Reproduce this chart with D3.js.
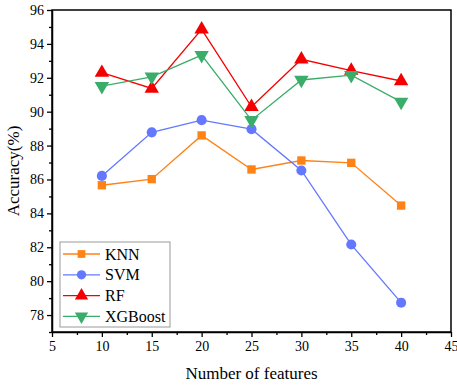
<!DOCTYPE html>
<html>
<head>
<meta charset="utf-8">
<script src="https://cdn.jsdelivr.net/npm/d3@7"></script>
<style>
  body { margin: 0; background: #fff; }
</style>
</head>
<body>
<svg id="chart" width="457" height="388"></svg>
<script>
const features = [10, 15, 20, 25, 30, 35, 40];
const knn = [85.66, 86.02, 88.6, 86.59, 87.12, 86.98, 84.46];
const svm = [86.21, 88.78, 89.5, 88.97, 86.53, 82.16, 78.73];
const rf = [92.3, 91.37, 94.86, 90.29, 93.09, 92.42, 91.81];
const xgb = [91.51, 92.06, 93.34, 89.5, 91.87, 92.16, 90.58];
const seriesNames = ['KNN', 'SVM', 'RF', 'XGBoost'];
const xTicks = [5, 10, 15, 20, 25, 30, 35, 40, 45];
const yTicks = [78, 80, 82, 84, 86, 88, 90, 92, 94, 96];

const FONT = '"Liberation Serif", "Times New Roman", serif';

const series = [
  { name: 'KNN', values: knn, color: '#ff8215', symbol: d3.symbolSquare, size: 70, rot: 0 },
  { name: 'SVM', values: svm, color: '#6478ff', symbol: d3.symbolCircle, size: 80, rot: 0 },
  { name: 'RF', values: rf, color: '#f50000', symbol: d3.symbolTriangle, size: 90, rot: 0 },
  { name: 'XGBoost', values: xgb, color: '#3aad6a', symbol: d3.symbolTriangle, size: 90, rot: 180 }
];

const margin = { top: 10, right: 6, bottom: 56, left: 52 };
const W = 457, H = 388;
const svg = d3.select('#chart');

const x = d3.scaleLinear().domain([5, 45]).range([margin.left, W - margin.right]);
const y = d3.scaleLinear().domain([77, 96]).range([H - margin.bottom, margin.top]);

// frame
svg.append('rect')
  .attr('x', x(5)).attr('y', y(96))
  .attr('width', x(45) - x(5)).attr('height', y(77) - y(96))
  .attr('fill', 'none').attr('stroke', '#000').attr('stroke-width', 1.5);

// x axis
svg.append('g').attr('transform', `translate(0,${y(77)})`)
  .call(d3.axisBottom(x).tickValues(xTicks).tickSize(5).tickSizeOuter(0).tickPadding(4));
svg.append('g').attr('transform', `translate(0,${y(77)})`)
  .call(d3.axisBottom(x).tickValues(d3.range(7.5, 45, 5)).tickSize(3).tickFormat(''))
  .select('.domain').remove();

// y axis
svg.append('g').attr('transform', `translate(${x(5)},0)`)
  .call(d3.axisLeft(y).tickValues(yTicks).tickSize(5).tickSizeOuter(0).tickPadding(3));
svg.append('g').attr('transform', `translate(${x(5)},0)`)
  .call(d3.axisLeft(y).tickValues(d3.range(77, 96, 2)).tickSize(3).tickFormat(''))
  .select('.domain').remove();

svg.selectAll('.tick line').attr('stroke-width', 1.3);
svg.selectAll('.domain').attr('stroke-width', 1.5);
svg.selectAll('.tick text')
  .attr('font-family', FONT).attr('font-size', 14).attr('fill', '#000');

// titles
svg.append('text')
  .attr('x', (x(5) + x(45)) / 2).attr('y', 379)
  .attr('text-anchor', 'middle')
  .attr('font-family', FONT).attr('font-size', 17)
  .text('Number of features');
svg.append('text')
  .attr('transform', `translate(19,${(y(77) + y(96)) / 2}) rotate(-90)`)
  .attr('text-anchor', 'middle')
  .attr('font-family', FONT).attr('font-size', 17)
  .text('Accuracy(%)');

// lines & markers
const line = d3.line().x((d, i) => x(features[i])).y(d => y(d));
series.forEach(s => {
  svg.append('path').datum(s.values)
    .attr('d', line).attr('fill', 'none')
    .attr('stroke', s.color).attr('stroke-width', 1.3);
  svg.selectAll(null).data(s.values).enter().append('path')
    .attr('d', d3.symbol().type(s.symbol).size(s.size))
    .attr('transform', (d, i) => `translate(${x(features[i])},${y(d)}) rotate(${s.rot})`)
    .attr('fill', s.color);
});

// legend
const lg = svg.append('g').attr('transform', 'translate(60,242)');
lg.append('rect').attr('width', 110).attr('height', 85)
  .attr('fill', '#fff').attr('stroke', '#999').attr('stroke-width', 1);
series.forEach((s, i) => {
  const ly = 12 + i * 20.8;
  lg.append('line').attr('x1', 3).attr('x2', 40).attr('y1', ly).attr('y2', ly)
    .attr('stroke', s.color).attr('stroke-width', 1.3);
  lg.append('path')
    .attr('d', d3.symbol().type(s.symbol).size(s.size * 0.85))
    .attr('transform', `translate(21.5,${ly}) rotate(${s.rot})`)
    .attr('fill', s.color);
  lg.append('text').attr('x', 45).attr('y', ly + 5.5)
    .attr('font-family', FONT).attr('font-size', 16).attr('fill', '#000')
    .text(seriesNames[i]);
});
</script>
</body>
</html>
